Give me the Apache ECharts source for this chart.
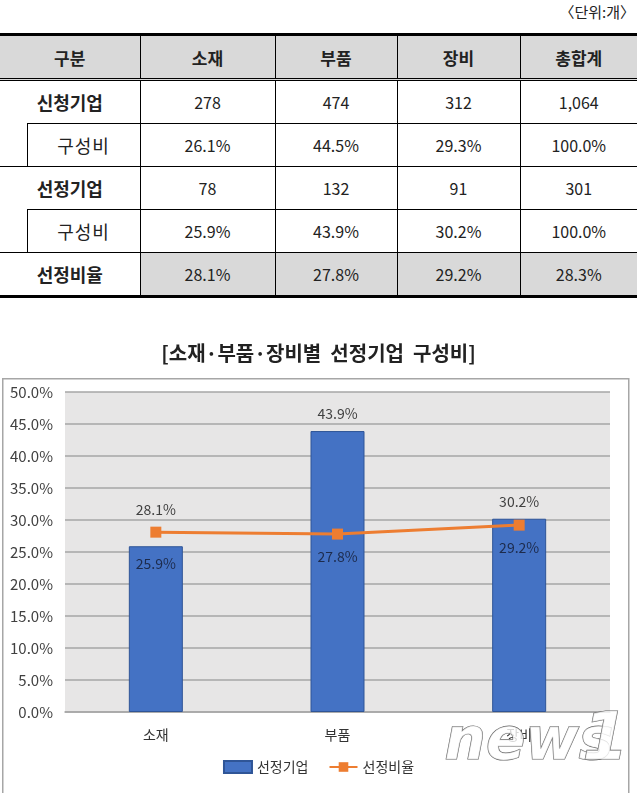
<!DOCTYPE html>
<html>
<head>
<meta charset="utf-8">
<script src="https://cdn.jsdelivr.net/npm/echarts@6/dist/echarts.min.js"></script>
<style>
  body { margin: 0; background: #fff; font-family: "Noto Sans CJK KR", "Noto Sans", sans-serif; }
  #page { position: relative; width: 637px; height: 793px; overflow: hidden; }
  #unit { position: absolute; top: 1px; right: 2px; font-size: 15px; color: #222; }
  #tbl { position: absolute; top: 33px; left: 0; width: 637px; border-collapse: collapse; table-layout: fixed; color: #222; }
  #tbl td { height: 42px; padding: 0; text-align: center; font-size: 16px; }
  #tbl tr.head td { background: #d9d9d9; font-weight: bold; font-size: 17px; border-top: 3px solid #000; border-bottom: 3px double #000; }
  #tbl td.d { border-left: 1px solid #000; }
  #tbl td.grp { font-weight: bold; font-size: 18px; }
  #tbl td.sub { font-size: 18px; border-left: 1px solid #000; letter-spacing: 1px; }
  #tbl tr.rate td.d { background: #d9d9d9; }
  #tbl tr.rate td { border-bottom: 3px solid #000; }
  #tbl tr.line td { border-top: 1px solid #000; }
  #tbl tr.line2 td.sub, #tbl tr.line2 td.d { border-top: 1px solid #000; }
  #chart { position: absolute; top: 330px; left: 0; width: 637px; height: 463px; }
</style>
</head>
<body>
<div id="page">
  <div id="unit">〈단위:개〉</div>
  <table id="tbl">
    <colgroup><col style="width:27px"><col style="width:113px"><col style="width:135px"><col style="width:122px"><col style="width:123px"><col style="width:117px"></colgroup>
    <tbody id="tbody"></tbody>
  </table>
  <div id="chart"></div>
</div>
<script>
var headers = ['구분', '소재', '부품', '장비', '총합계'];
var categories = ['소재', '부품', '장비'];
var appliedCount = [278, 474, 312, 1064];
var appliedShare = [26.1, 44.5, 29.3, 100.0];
var selectedCount = [78, 132, 91, 301];
var selectedShare = [25.9, 43.9, 30.2, 100.0];
var selectionRate = [28.1, 27.8, 29.2, 28.3];

function pct(v) { return v.toFixed(1) + '%'; }
function num(v) { return v.toLocaleString('en-US'); }

function cells(vals, fmt) {
    return vals.map(function (v) { return '<td class="d">' + fmt(v) + '</td>'; }).join('');
}

var rows = '';
rows += '<tr class="head"><td colspan="2">' + headers[0] + '</td>' +
    headers.slice(1).map(function (h) { return '<td class="d">' + h + '</td>'; }).join('') + '</tr>';
rows += '<tr><td colspan="2" class="grp">신청기업</td>' + cells(appliedCount, num) + '</tr>';
rows += '<tr class="line2"><td></td><td class="sub">구성비</td>' + cells(appliedShare, pct) + '</tr>';
rows += '<tr class="line"><td colspan="2" class="grp">선정기업</td>' + cells(selectedCount, num) + '</tr>';
rows += '<tr class="line2"><td></td><td class="sub">구성비</td>' + cells(selectedShare, pct) + '</tr>';
rows += '<tr class="line rate"><td colspan="2" class="grp">선정비율</td>' + cells(selectionRate, pct) + '</tr>';
document.getElementById('tbody').innerHTML = rows;

var chart = echarts.init(document.getElementById('chart'), null, {renderer: 'canvas'});

var barLabelPos = ['insideTop', 'top', 'top'];
var lineLabelPos = ['top', 'bottom', 'bottom'];

chart.setOption({
    textStyle: {fontFamily: '"Noto Sans CJK KR", sans-serif'},
    title: {
        text: '[소재·부품·장비별  선정기업  구성비]',
        left: 'center', top: 8,
        textStyle: {fontSize: 20, fontWeight: 'bold', color: '#222'}
    },
    graphic: [{
        type: 'rect', left: 2, top: 48, z: -1,
        shape: {width: 626, height: 430},
        style: {fill: '#fff', stroke: '#a6a6a6', lineWidth: 1.5}
    }, {
        // news1 watermark
        type: 'text', left: 444, top: 384, z: 100,
        style: {
            text: 'news', fontSize: 58, fontStyle: 'italic', fontWeight: 'bold',
            fontFamily: 'DejaVu Sans', fill: 'rgba(255,255,255,0.8)', stroke: '#666', lineWidth: 1.2
        }
    }, {
        type: 'text', left: 582, top: 378, z: 100,
        style: {
            text: '1', fontSize: 66, fontStyle: 'italic', fontWeight: 'bold',
            fontFamily: 'DejaVu Sans', fill: 'rgba(255,255,255,0.8)', stroke: '#666', lineWidth: 1.2
        }
    }],
    legend: {
        bottom: 14, left: 'center', itemWidth: 28, itemHeight: 12, itemGap: 20,
        textStyle: {fontSize: 14, color: '#333'},
        data: [{name: '선정기업', icon: 'rect'}, {name: '선정비율'}]
    },
    grid: {
        left: 65, right: 27, top: 62, bottom: 81,
        show: true, backgroundColor: '#e7e6e6', borderWidth: 0
    },
    xAxis: {
        type: 'category', data: categories,
        axisTick: {show: false},
        axisLine: {lineStyle: {color: '#a6a6a6', width: 1.5}},
        axisLabel: {fontSize: 14, color: '#333', margin: 16}
    },
    yAxis: {
        type: 'value', min: 0, max: 50, interval: 5,
        axisLabel: {formatter: function (v) { return v.toFixed(1) + '%'; }, fontSize: 15, color: '#404040', margin: 12},
        splitLine: {lineStyle: {color: '#a6a6a6', width: 1.5}},
        axisLine: {show: false}
    },
    series: [{
        name: '선정기업', type: 'bar', barWidth: 54,
        itemStyle: {color: '#4472c4', borderColor: '#2f5597', borderWidth: 1},
        data: categories.map(function (c, i) {
            return {value: selectedShare[i], label: {position: barLabelPos[i], color: i === 0 ? '#1d2b4c' : '#404040'}};
        }),
        label: {show: true, fontSize: 14, distance: 10, formatter: function (p) { return pct(p.value); }}
    }, {
        name: '선정비율', type: 'line', symbol: 'rect', symbolSize: 11,
        lineStyle: {color: '#ed7d31', width: 3},
        itemStyle: {color: '#ed7d31'},
        data: categories.map(function (c, i) {
            return {value: selectionRate[i], label: {position: lineLabelPos[i], color: i === 0 ? '#404040' : '#1d2b4c'}};
        }),
        label: {show: true, fontSize: 14, distance: 10, formatter: function (p) { return pct(p.value); }}
    }]
});
</script>
</body>
</html>
